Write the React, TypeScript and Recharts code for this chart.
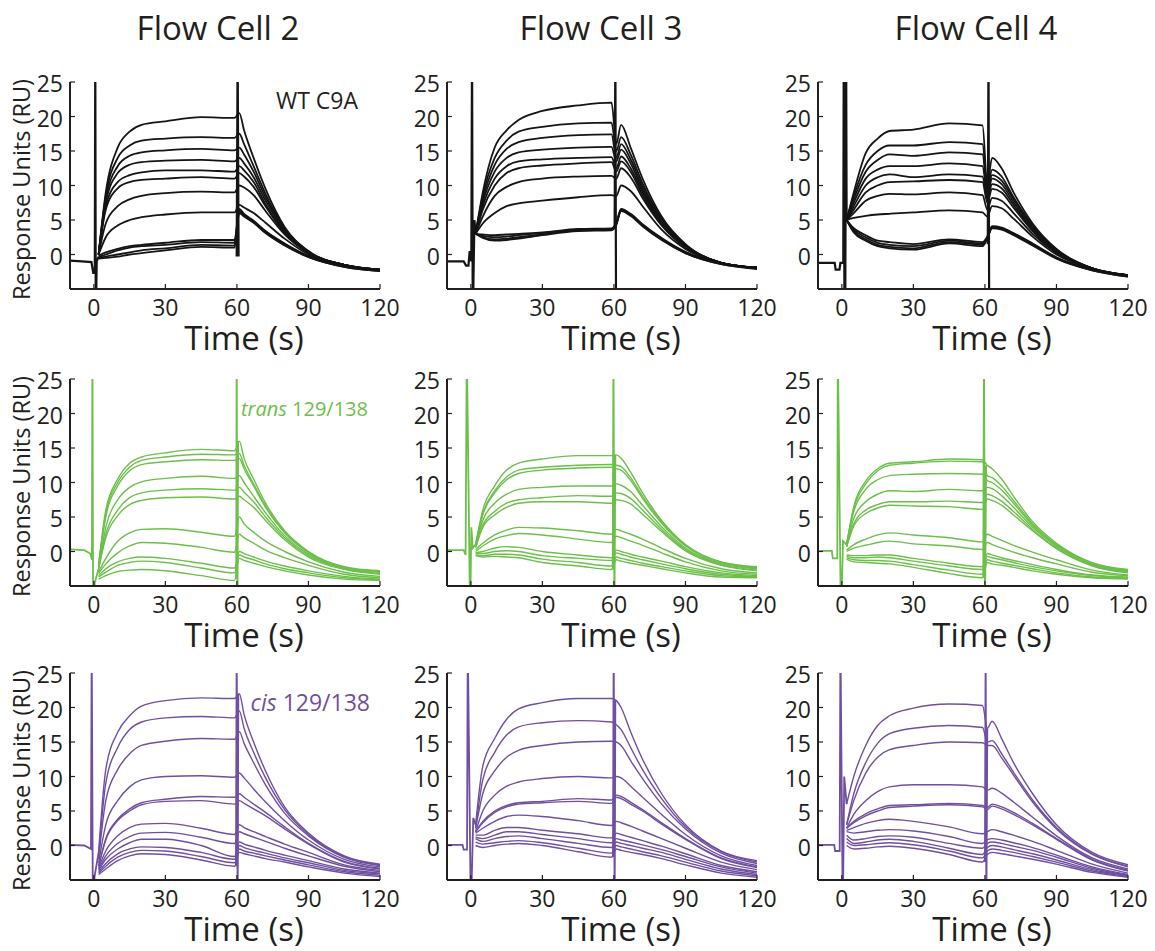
import { LineChart, Line, XAxis, YAxis, Label } from "recharts"

const FONT = '"Open Sans", "DejaVu Sans", sans-serif'
const INK = "#231f20"

const titles = ["Flow Cell 2", "Flow Cell 3", "Flow Cell 4"]
const xTicks = [0, 30, 60, 90, 120]
const yTicks = [0, 5, 10, 15, 20, 25]

// sample times (s) shared by every sensorgram after the injection spike
const time = [2, 5, 10, 15, 20, 30, 45, 59, 61, 63, 67, 72, 80, 90, 105, 120]

// WT C9A, flow cell 2
const wtFc2 = [
  [0, 9, 15.5, 17.8, 18.8, 19.3, 19.9, 19.8, 20.5, 18, 14, 9.5, 4, 0.5, -1.5, -2.2],
  [0, 8.5, 14, 15.8, 16.5, 16.8, 17, 16.9, 17.5, 16, 12.8, 8.8, 3.8, 0.4, -1.5, -2.2],
  [0, 8, 12.8, 14.3, 14.8, 15.1, 15.3, 15.1, 15.5, 14.5, 12, 8.3, 3.6, 0.4, -1.5, -2.2],
  [0, 7.5, 11.8, 13, 13.4, 13.6, 13.7, 13.5, 14, 13.2, 11.2, 7.8, 3.4, 0.3, -1.5, -2.2],
  [0, 7, 10.5, 11.5, 11.9, 12.2, 12.2, 12, 12.8, 12.2, 10.5, 7.3, 3.2, 0.3, -1.5, -2.2],
  [0, 6.5, 9.6, 10.5, 10.8, 11, 11.2, 11, 11.8, 11.3, 9.8, 7, 3.1, 0.2, -1.5, -2.2],
  [0, 4.5, 7, 8, 8.5, 8.9, 9.1, 9, 10, 9.7, 8.6, 6.3, 2.9, 0.2, -1.5, -2.3],
  [0, 2.5, 4.2, 5, 5.4, 5.8, 6.1, 6.1, 7.2, 6.8, 6, 4.6, 2.3, 0, -1.6, -2.3],
  [-0.2, 0.3, 0.8, 1.2, 1.4, 1.7, 2.1, 2.1, 6.6, 5.9, 4.9, 3.4, 1.6, -0.2, -1.7, -2.3],
  [-0.4, 0, 0.6, 1, 1.2, 1.4, 1.8, 1.7, 6.4, 5.8, 4.8, 3.3, 1.5, -0.3, -1.7, -2.3],
  [-0.5, -0.3, 0, 0.3, 0.6, 0.9, 1.4, 1.3, 6.2, 5.6, 4.7, 3.2, 1.4, -0.3, -1.8, -2.4],
  [-0.6, -0.5, -0.3, 0, 0.2, 0.6, 1.1, 1, 6, 5.5, 4.6, 3.1, 1.3, -0.4, -1.8, -2.4],
]
const wtFc2InjT = [-10, -5, -1, -0.2, 0.4, 0.6, 0.8, 1.2, 2]
const wtFc2InjV = [-0.9, -1, -1.1, -2.8, -2, 30, -10, -1, -0.3]
const wtFc2StopT = [59.9, 60.3, 60.7]
const wtFc2StopV = [-0.3, 30, -0.3]

// WT C9A, flow cell 3
const wtFc3 = [
  [3, 9, 15.5, 18, 19.5, 20.8, 21.6, 22, 16, 18.8, 15.5, 11, 5.5, 1.5, -1.2, -1.9],
  [3, 8.5, 14, 16.5, 17.8, 18.5, 19, 19.1, 15, 17, 14.5, 10.3, 5.2, 1.4, -1.2, -1.9],
  [3, 8, 13, 15.3, 16.3, 16.9, 17.3, 17.4, 14, 16, 13.8, 9.8, 5, 1.3, -1.2, -1.9],
  [3, 7.5, 12, 14, 14.8, 15.2, 15.5, 15.6, 13.5, 15.2, 13.2, 9.4, 4.8, 1.2, -1.2, -1.9],
  [3, 7, 11, 12.8, 13.5, 13.8, 14, 14.1, 12.5, 14.2, 12.5, 9, 4.6, 1.2, -1.2, -1.9],
  [3, 6.5, 10, 11.8, 12.5, 12.9, 13.2, 13.4, 12, 13.5, 12, 8.6, 4.4, 1.1, -1.2, -1.9],
  [3, 5.5, 8.5, 9.8, 10.5, 11, 11.3, 11.4, 11, 12.5, 11.2, 8.2, 4.2, 1, -1.2, -1.9],
  [3, 4.5, 6, 7, 7.4, 7.8, 8.3, 8.6, 8.5, 10, 9.2, 7, 3.6, 0.8, -1.2, -1.9],
  [3, 2.9, 2.8, 2.9, 3, 3.2, 3.7, 3.8, 4.6, 6.6, 5.9, 4.4, 2.4, 0.4, -1.3, -2],
  [3, 2.7, 2.5, 2.6, 2.8, 3.1, 3.6, 3.7, 4.5, 6.5, 5.8, 4.3, 2.3, 0.3, -1.3, -2],
  [3, 2.5, 2.2, 2.3, 2.5, 2.9, 3.5, 3.6, 4.4, 6.4, 5.7, 4.2, 2.2, 0.2, -1.4, -2],
  [3, 2.4, 2, 2.1, 2.3, 2.8, 3.4, 3.5, 4.3, 6.3, 5.6, 4.1, 2.1, 0.2, -1.4, -2.1],
]
const wtFc3InjT = [-10, -3, -2, -1, -0.5, 0.2, 0.5, 0.8, 1.5, 2]
const wtFc3InjV = [-1, -1, -1.6, -1.6, 0.5, -1, 30, -10, 5, 3]
const wtFc3StopT = [60.3, 60.6, 60.9]
const wtFc3StopV = [3.8, 30, -10]

// WT C9A, flow cell 4
const wtFc4 = [
  [5, 9, 14.7, 16.8, 17.9, 18.1, 19, 18.7, 10, 14, 12.5, 9, 4.5, 0.8, -2, -3],
  [5, 8.5, 13, 15, 15.8, 15.8, 16.3, 16, 9.5, 12.3, 11.3, 8.3, 4.2, 0.7, -2, -3],
  [5, 8, 12, 13.7, 14.5, 14.3, 14.8, 14.5, 9, 11.5, 10.7, 8, 4, 0.6, -2, -3],
  [5, 7.5, 11, 12.3, 12.8, 12.8, 13.2, 12.8, 8.5, 11, 10.2, 7.6, 3.8, 0.5, -2, -3],
  [5, 7, 10, 11.2, 11.6, 11.2, 11.6, 11.3, 8, 10.2, 9.6, 7.2, 3.6, 0.4, -2, -3],
  [5, 6.5, 9, 10, 10.5, 10.6, 10.8, 10.5, 7.5, 9.5, 9, 6.8, 3.4, 0.3, -2, -3],
  [5, 6, 7.8, 8.5, 8.8, 8.7, 9, 8.6, 6.5, 8.2, 7.8, 6, 3, 0.2, -2.1, -3.1],
  [5, 5.3, 5.6, 5.8, 5.9, 6.1, 6.4, 6.1, 5.5, 7, 6.7, 5.2, 2.6, 0, -2.1, -3.1],
  [5, 3.8, 2.8, 2, 1.8, 1.5, 2.2, 1.8, 2.6, 4.1, 3.9, 3.1, 1.6, -0.4, -2.2, -3.1],
  [5, 3.6, 2.5, 1.7, 1.4, 1.2, 2, 1.6, 2.5, 4, 3.8, 3, 1.5, -0.5, -2.2, -3.1],
  [5, 3.4, 2.2, 1.4, 1.1, 0.9, 1.8, 1.4, 2.4, 3.9, 3.7, 2.9, 1.4, -0.5, -2.3, -3.2],
  [5, 3.2, 2, 1.2, 0.9, 0.7, 1.6, 1.2, 2.3, 3.8, 3.6, 2.8, 1.3, -0.6, -2.3, -3.2],
]
const wtFc4InjT = [-10, -3, -2.6, -1, -0.6, 0.6, 0.8, 1.1, 1.4, 1.8, 2]
const wtFc4InjV = [-1.2, -1.2, -2.2, -2.2, -1.2, -1.2, 30, -10, -10, 30, 5]
const wtFc4StopT = [61.2, 61.5, 61.8]
const wtFc4StopV = [1.5, 30, -10]

// trans 129/138, flow cell 2
const transFc2 = [
  [-2, 6, 10.5, 12.8, 13.7, 14.3, 14.8, 14.6, 16, 13.5, 10.5, 7, 3, 0, -2.2, -2.8],
  [-2, 5.5, 10, 12.2, 13.2, 13.7, 14.1, 14, 14.2, 12.5, 9.8, 6.6, 2.8, -0.1, -2.3, -2.9],
  [-2, 5, 9.5, 11.7, 12.6, 13, 13.3, 13.2, 13.5, 12, 9.5, 6.4, 2.7, -0.2, -2.3, -2.9],
  [-2.5, 3.5, 7.5, 9.3, 10.1, 10.6, 10.9, 10.6, 11, 10, 8, 5.6, 2.3, -0.4, -2.4, -3],
  [-2.5, 2.5, 6, 7.8, 8.5, 8.9, 9.1, 8.9, 9.3, 8.6, 7.2, 5, 2, -0.6, -2.5, -3.2],
  [-2.5, 2, 5.2, 6.8, 7.4, 7.8, 7.9, 7.6, 8, 7.5, 6.4, 4.5, 1.7, -0.8, -2.6, -3.3],
  [-3, -1, 1.5, 2.7, 3.2, 3.3, 2.8, 2.2, 5, 4, 2.8, 1.5, 0, -1.5, -3, -3.6],
  [-3.2, -1.8, -0.2, 0.8, 1.3, 1.2, 0.6, -0.1, 2.5, 2, 1.2, 0.2, -0.9, -2, -3.3, -3.8],
  [-3.5, -2.5, -1.5, -1, -0.8, -1, -1.7, -2.4, 0, -0.3, -0.8, -1.4, -2.1, -2.8, -3.6, -4],
  [-3.7, -3, -2, -1.6, -1.4, -1.6, -2.4, -3.1, -0.5, -0.8, -1.2, -1.8, -2.5, -3.1, -3.8, -4.1],
  [-4, -3.5, -2.9, -2.7, -2.6, -2.8, -3.5, -4.2, -1, -1.3, -1.7, -2.2, -2.8, -3.4, -4, -4.2],
]
const transFc2InjT = [-10, -4, -1.5, -0.8, -0.6, -0.3, 0.4, 2]
const transFc2InjV = [0.3, 0.2, -0.3, -1.2, 30, -10, -4.5, -2.5]
const transFc2StopT = [59.7, 59.9, 60.2, 60.5]
const transFc2StopV = [-4, 30, -10, 16]

// trans 129/138, flow cell 3
const transFc3 = [
  [1, 6, 9.5, 11.8, 12.8, 13.4, 13.9, 13.9, 14, 13.5, 11.5, 8.5, 4.5, 1, -1.5, -2.2],
  [1, 5.5, 8.8, 10.8, 11.8, 12.2, 12.5, 12.6, 12.5, 12.3, 10.7, 8, 4.3, 0.9, -1.6, -2.3],
  [1, 5.3, 8.5, 10.4, 11.3, 11.8, 12.1, 12.2, 12, 11.8, 10.3, 7.7, 4.1, 0.8, -1.6, -2.4],
  [0.8, 4.5, 7, 8.3, 9, 9.3, 9.5, 9.5, 9.8, 9.6, 8.7, 6.7, 3.6, 0.5, -1.8, -2.5],
  [0.6, 3.8, 5.8, 7, 7.5, 7.8, 8.1, 8, 8.5, 8.4, 7.7, 6, 3.2, 0.3, -1.9, -2.7],
  [0.6, 3.5, 5.3, 6.4, 7, 7.2, 7.2, 7, 7.5, 7.4, 6.9, 5.4, 2.9, 0.1, -2, -2.8],
  [0.3, 1.2, 2.4, 3.1, 3.5, 3.4, 3, 2.5, 3.2, 3, 2.5, 1.8, 0.5, -1, -2.5, -3.1],
  [0, 0.8, 1.8, 2.3, 2.6, 2.4, 1.8, 1.3, 2.2, 2, 1.5, 0.9, -0.2, -1.5, -2.8, -3.3],
  [-0.2, 0, 0.5, 0.7, 0.6, 0, -0.5, -0.9, 0.2, 0, -0.4, -0.8, -1.4, -2.2, -3.1, -3.5],
  [-0.3, -0.3, 0, 0.1, 0, -0.6, -1, -1.3, -0.2, -0.4, -0.8, -1.2, -1.8, -2.5, -3.3, -3.6],
  [-0.5, -0.6, -0.4, -0.4, -0.5, -1.1, -1.6, -2.1, -0.8, -1, -1.3, -1.7, -2.2, -2.8, -3.5, -3.7],
  [-0.6, -0.8, -0.7, -0.8, -0.9, -1.6, -2.1, -2.6, -1.2, -1.4, -1.7, -2, -2.5, -3.1, -3.7, -3.8],
]
const transFc3InjT = [-10, -3, -2.2, -1.7, -0.3, 0.2, 0.8, 2]
const transFc3InjV = [0.2, 0.2, -0.5, 30, -10, 3.5, 0.5, 1]
const transFc3StopT = [59.5, 59.8, 60.2, 60.6]
const transFc3StopV = [-2.6, 30, -10, 14]

// trans 129/138, flow cell 4
const transFc4 = [
  [1, 6.5, 10.2, 12, 12.8, 13, 13.4, 13.3, 12.5, 12, 10.5, 8, 4.3, 1.2, -1.6, -2.6],
  [1, 6.2, 9.8, 11.7, 12.5, 12.8, 13.1, 13, 11, 10.7, 9.5, 7.4, 4, 1, -1.7, -2.7],
  [1, 5.8, 9, 10.4, 11, 11.2, 11.3, 11.2, 10.3, 10, 8.9, 7, 3.8, 0.9, -1.8, -2.8],
  [0.8, 4.8, 7.2, 8.3, 8.8, 8.7, 9, 8.8, 9.3, 9.1, 8.1, 6.4, 3.5, 0.7, -1.9, -2.9],
  [0.7, 4, 6, 6.8, 7.2, 7.2, 7.3, 7.1, 8.3, 8.1, 7.3, 5.8, 3.2, 0.5, -2, -3],
  [0.7, 3.7, 5.5, 6.3, 6.7, 6.6, 6.5, 6.1, 7.6, 7.4, 6.7, 5.3, 3, 0.4, -2.1, -3.1],
  [0.2, 1, 1.8, 2.4, 2.7, 2.4, 2, 1.4, 2.5, 2.2, 1.6, 0.9, -0.1, -1.2, -2.7, -3.4],
  [0, 0.5, 0.9, 1.3, 1.5, 1.1, 0.8, 0.3, 1.3, 1, 0.5, -0.1, -0.9, -1.8, -3, -3.5],
  [-0.5, -0.6, -0.6, -0.5, -0.5, -1, -1.7, -2.2, -0.3, -0.5, -0.9, -1.3, -1.9, -2.6, -3.4, -3.7],
  [-0.7, -0.9, -0.9, -0.8, -0.9, -1.4, -2.1, -2.6, -0.7, -0.9, -1.2, -1.6, -2.2, -2.8, -3.5, -3.8],
  [-0.9, -1.2, -1.3, -1.3, -1.4, -1.9, -2.7, -3.3, -1.2, -1.4, -1.7, -2, -2.5, -3.1, -3.7, -3.9],
  [-1.1, -1.5, -1.6, -1.7, -1.8, -2.3, -3.2, -3.8, -1.6, -1.8, -2, -2.3, -2.8, -3.3, -3.8, -4],
]
const transFc4InjT = [-10, -4.2, -3.8, -1.9, -1.7, -0.4, 0.5, 2]
const transFc4InjV = [0.1, 0.1, -1, -1, 30, -10, 1.5, 1]
const transFc4StopT = [59.3, 59.6, 60, 60.5]
const transFc4StopV = [-3.8, 30, -10, 12.5]

// cis 129/138, flow cell 2
const cisFc2 = [
  [-1, 11, 16.4, 18.8, 20.2, 21, 21.4, 21.3, 22, 19, 15, 10.8, 5.6, 1.8, -1.5, -2.7],
  [-1.5, 9, 14.2, 16.8, 17.9, 18.5, 18.7, 18.5, 19.5, 17, 13.5, 9.8, 5.2, 1.6, -1.6, -2.8],
  [-2, 6.5, 11, 13.3, 14.5, 15.1, 15.5, 15.4, 16.5, 14.8, 12, 8.8, 4.7, 1.4, -1.7, -2.9],
  [-2.5, 3, 6.5, 8.5, 9.5, 10, 10.1, 9.9, 10.5, 9.8, 8.2, 6.3, 3.6, 0.8, -2, -3.1],
  [-3, 1, 3.8, 5.3, 6.2, 6.7, 7.1, 7, 7.5, 7, 6, 4.8, 2.7, 0.3, -2.3, -3.3],
  [-3, 0.8, 3.6, 5, 5.9, 6.4, 6.5, 6, 6.5, 6.1, 5.3, 4.3, 2.4, 0.2, -2.4, -3.4],
  [-3.2, -0.8, 1.4, 2.6, 3.1, 3.2, 2.5, 1.6, 3, 2.6, 2, 1.3, 0.2, -1, -2.8, -3.6],
  [-3.4, -1.5, 0.3, 1.3, 1.8, 1.9, 1.2, 0.3, 2, 1.7, 1.2, 0.6, -0.4, -1.5, -3, -3.8],
  [-3.6, -2, -0.5, 0.4, 0.9, 0.9, 0, -1.6, 0.5, 0.2, -0.2, -0.7, -1.4, -2.2, -3.4, -4],
  [-3.8, -2.6, -1.2, -0.5, -0.2, -0.3, -1, -2, 0, -0.3, -0.7, -1.1, -1.8, -2.5, -3.6, -4.1],
  [-4, -3, -1.7, -1, -0.7, -0.8, -1.6, -2.5, -0.5, -0.8, -1.1, -1.5, -2.1, -2.8, -3.8, -4.3],
  [-4.2, -3.4, -2.2, -1.5, -1.2, -1.3, -2.1, -3, -1, -1.2, -1.5, -1.9, -2.4, -3.1, -4, -4.5],
]
const cisFc2InjT = [-10, -4, -1.2, -0.9, -0.4, 0.3, 2]
const cisFc2InjV = [0.1, 0, -0.5, 30, -10, -4.5, -1]
const cisFc2StopT = [59.6, 59.9, 60.3, 60.6]
const cisFc2StopV = [-3, 30, -10, 22]

// cis 129/138, flow cell 3
const cisFc3 = [
  [3, 11.5, 15.5, 18.3, 19.8, 20.7, 21.3, 21.3, 21, 20, 16.5, 12.5, 7.5, 3, -0.8, -2.2],
  [2.5, 9.5, 13.5, 16, 17.2, 17.8, 18.1, 17.9, 17.5, 16.8, 14.2, 11, 6.8, 2.7, -0.9, -2.4],
  [2.5, 7.5, 10.8, 12.8, 13.8, 14.5, 15, 15.1, 15, 14.5, 12.3, 9.7, 6, 2.4, -1.1, -2.6],
  [2, 5, 7.3, 8.6, 9.2, 9.7, 10, 9.8, 10, 9.8, 8.6, 7, 4.5, 1.6, -1.5, -2.9],
  [2, 3.5, 5, 5.8, 6.2, 6.4, 6.8, 6.6, 7.3, 7.1, 6.3, 5.2, 3.3, 1, -1.8, -3.1],
  [2, 3.3, 4.8, 5.6, 6, 6.2, 6.4, 6.1, 7, 6.8, 6, 5, 3.1, 0.9, -1.9, -3.2],
  [1.8, 2.5, 3.5, 4.2, 4.4, 4.2, 3.6, 2.9, 3.5, 3.3, 2.8, 2.1, 1, -0.4, -2.4, -3.5],
  [1.5, 1.5, 2.2, 2.6, 2.6, 2.2, 1.7, 1.1, 1.8, 1.6, 1.2, 0.7, -0.1, -1.2, -2.9, -3.8],
  [1.2, 1, 1.5, 2, 2, 1.6, 1, 0.4, 1, 0.8, 0.5, 0.1, -0.6, -1.6, -3.1, -4],
  [1, 0.6, 1, 1.3, 1.4, 1, 0.3, -0.3, 0.5, 0.3, 0, -0.4, -1, -2, -3.4, -4.2],
  [0.5, 0.2, 0.4, 0.6, 0.7, 0.4, -0.4, -1.1, 0, -0.2, -0.5, -0.9, -1.5, -2.4, -3.7, -4.4],
  [0, -0.3, 0, 0.2, 0.3, 0, -0.9, -1.7, -0.5, -0.7, -1, -1.3, -1.9, -2.8, -4, -4.6],
]
const cisFc3InjT = [-10, -3.5, -3, -1.6, -1.3, 0, 1, 2]
const cisFc3InjV = [0.1, 0.1, -0.6, -0.6, 30, -10, 4, 3]
const cisFc3StopT = [59.6, 59.9, 60.3, 60.6]
const cisFc3StopV = [-1.7, 30, -10, 21]

// cis 129/138, flow cell 4
const cisFc4 = [
  [6, 10, 14.5, 17.4, 18.8, 19.9, 20.5, 20.3, 17, 18, 15.5, 12, 7.5, 3, -1, -2.8],
  [3, 7.5, 12, 14.8, 16.2, 17, 17.4, 17.1, 15, 15.2, 13.3, 10.6, 6.6, 2.6, -1.2, -3],
  [3, 6.5, 10.5, 12.8, 13.9, 14.5, 15, 14.9, 14.5, 14.5, 12.7, 10.2, 6.3, 2.4, -1.3, -3.1],
  [2.5, 4.5, 6.5, 7.8, 8.5, 8.8, 8.8, 8.5, 8, 8.3, 7.6, 6.3, 4.1, 1.4, -1.8, -3.4],
  [2.5, 3.5, 4.6, 5.3, 5.8, 5.9, 6.1, 5.8, 5.5, 6, 5.6, 4.8, 3.2, 1, -2, -3.6],
  [2.5, 3.3, 4.3, 5, 5.5, 5.7, 5.9, 5.6, 5.2, 5.7, 5.3, 4.5, 3, 0.9, -2.1, -3.7],
  [2.2, 2.6, 3.2, 3.6, 3.8, 3.5, 2.7, 1.7, 2, 2.3, 2, 1.5, 0.6, -0.7, -2.7, -4],
  [2, 1.8, 2, 2.2, 2.3, 2.1, 1.3, 0.3, 0.8, 1, 0.8, 0.4, -0.3, -1.4, -3.1, -4.2],
  [1.5, 0.8, 1, 1.3, 1.4, 1.2, 0.3, -0.4, 0.3, 0.5, 0.3, -0.1, -0.7, -1.7, -3.3, -4.3],
  [1, 0.3, 0.5, 0.8, 0.9, 0.6, -0.4, -1.3, -0.3, 0, -0.2, -0.6, -1.2, -2.1, -3.5, -4.4],
  [0.5, 0, 0.1, 0.3, 0.4, 0.1, -0.8, -1.8, -0.8, -0.5, -0.7, -1, -1.6, -2.4, -3.7, -4.5],
  [0, -0.5, -0.4, -0.2, -0.1, -0.4, -1.3, -2.4, -1.3, -1, -1.2, -1.5, -2, -2.7, -3.9, -4.6],
]
const cisFc4InjT = [-10, -3.2, -2.8, -0.9, -0.6, 0.4, 1, 2]
const cisFc4InjV = [0.1, 0.1, -0.8, -0.8, 30, -10, 10, 6]
const cisFc4StopT = [60, 60.3, 60.6, 61]
const cisFc4StopV = [-2.4, 30, -10, 17]

const rowColors = ["#141414", "#6cbf4a", "#6f4f9f"]
const rowLineWidths = [1.8, 1.4, 1.4]
const plotLefts = [70, 447, 818]
const plotTops = [82, 379, 673]
const PLOT_W = 310
const PLOT_H = 207
const X_AXIS_H = 61
const M_TOP = 18
const M_RIGHT = 26
const M_BOTTOM = 12

const toPoints = (ts: number[], vs: number[]) => ts.map((t, i) => ({ t, v: vs[i] }))

const panels = [
  [
    { curves: wtFc2, inj: toPoints(wtFc2InjT, wtFc2InjV), stop: toPoints(wtFc2StopT, wtFc2StopV) },
    { curves: wtFc3, inj: toPoints(wtFc3InjT, wtFc3InjV), stop: toPoints(wtFc3StopT, wtFc3StopV) },
    { curves: wtFc4, inj: toPoints(wtFc4InjT, wtFc4InjV), stop: toPoints(wtFc4StopT, wtFc4StopV) },
  ],
  [
    { curves: transFc2, inj: toPoints(transFc2InjT, transFc2InjV), stop: toPoints(transFc2StopT, transFc2StopV) },
    { curves: transFc3, inj: toPoints(transFc3InjT, transFc3InjV), stop: toPoints(transFc3StopT, transFc3StopV) },
    { curves: transFc4, inj: toPoints(transFc4InjT, transFc4InjV), stop: toPoints(transFc4StopT, transFc4StopV) },
  ],
  [
    { curves: cisFc2, inj: toPoints(cisFc2InjT, cisFc2InjV), stop: toPoints(cisFc2StopT, cisFc2StopV) },
    { curves: cisFc3, inj: toPoints(cisFc3InjT, cisFc3InjV), stop: toPoints(cisFc3StopT, cisFc3StopV) },
    { curves: cisFc4, inj: toPoints(cisFc4InjT, cisFc4InjV), stop: toPoints(cisFc4StopT, cisFc4StopV) },
  ],
]

type PanelProps = {
  curves: number[][]
  inj: { t: number; v: number }[]
  stop: { t: number; v: number }[]
  color: string
  lineWidth: number
  left: number
  top: number
  showYLabel: boolean
}

const tickStyle = { fill: INK, fontSize: 23, fontFamily: FONT }
const frame = { stroke: INK, strokeWidth: 2 }
const tickMark = { stroke: INK, strokeWidth: 1.2 }

function Panel({ curves, inj, stop, color, lineWidth, left, top, showYLabel }: PanelProps) {
  const yW = showYLabel ? 70 : 62
  return (
    <div style={{ position: "absolute", left: left - yW, top: top - M_TOP }}>
      <LineChart
        width={yW + PLOT_W + M_RIGHT}
        height={M_TOP + PLOT_H + X_AXIS_H + M_BOTTOM}
        margin={{ top: M_TOP, right: M_RIGHT, bottom: M_BOTTOM, left: 0 }}
      >
        <XAxis
          dataKey="t"
          type="number"
          domain={[-10, 120]}
          ticks={xTicks}
          allowDataOverflow
          height={X_AXIS_H}
          tickSize={-5}
          tickMargin={16}
          axisLine={frame}
          tickLine={tickMark}
          tick={tickStyle}
        >
          <Label
            value="Time (s)"
            position="insideBottom"
            offset={0}
            dx={19}
            style={{ fontSize: 33, fontFamily: FONT, fill: INK }}
          />
        </XAxis>
        <XAxis
          xAxisId="top"
          orientation="top"
          type="number"
          domain={[-10, 120]}
          ticks={xTicks}
          allowDataOverflow
          height={0}
          tickSize={-5}
          axisLine={frame}
          tickLine={tickMark}
          tick={false}
        />
        <YAxis
          dataKey="v"
          type="number"
          domain={[-5, 25]}
          ticks={yTicks}
          allowDataOverflow
          width={yW}
          tickSize={-5}
          tickMargin={12}
          axisLine={frame}
          tickLine={tickMark}
          tick={{ ...tickStyle, dy: 2 }}
        >
          {showYLabel && (
            <Label
              value="Response Units (RU)"
              angle={-90}
              position="center"
              dx={-13}
              dy={4}
              style={{ fontSize: 23.5, fontFamily: FONT, fill: INK }}
            />
          )}
        </YAxis>
        <YAxis
          yAxisId="right"
          orientation="right"
          type="number"
          domain={[-5, 25]}
          ticks={yTicks}
          allowDataOverflow
          width={0}
          tickSize={-5}
          axisLine={frame}
          tickLine={tickMark}
          tick={false}
        />
        <Line data={inj} dataKey="v" type="linear" stroke={color} strokeWidth={lineWidth + 0.4} dot={false} isAnimationActive={false} />
        <Line data={stop} dataKey="v" type="linear" stroke={color} strokeWidth={lineWidth + 0.4} dot={false} isAnimationActive={false} />
        {curves.map((c, i) => (
          <Line
            key={i}
            data={time.map((t, j) => ({ t, v: c[j] }))}
            dataKey="v"
            type="monotone"
            stroke={color}
            strokeWidth={lineWidth}
            dot={false}
            isAnimationActive={false}
          />
        ))}
      </LineChart>
    </div>
  )
}

const textBase = { position: "absolute" as const, fontFamily: FONT, color: INK, whiteSpace: "nowrap" as const }

export default function App() {
  return (
    <div style={{ position: "absolute", left: 0, top: 0, width: 1155, height: 951, background: "#fff", overflow: "hidden" }}>
      {titles.map((title, i) => (
        <div
          key={title}
          style={{ ...textBase, left: [218, 601, 976][i] - 150, top: 11, width: 300, textAlign: "center", fontSize: 33, lineHeight: "33px" }}
        >
          {title}
        </div>
      ))}
      {panels.map((row, r) =>
        row.map((p, c) => (
          <Panel
            key={`${r}-${c}`}
            curves={p.curves}
            inj={p.inj}
            stop={p.stop}
            color={rowColors[r]}
            lineWidth={rowLineWidths[r]}
            left={plotLefts[c]}
            top={plotTops[r]}
            showYLabel={c === 0}
          />
        ))
      )}
      <div style={{ ...textBase, left: 158, top: 89, width: 200, textAlign: "right", fontSize: 23, lineHeight: "23px" }}>
        WT C9A
      </div>
      <div style={{ ...textBase, left: 168, top: 399, width: 200, textAlign: "right", fontSize: 20, lineHeight: "20px", color: rowColors[1] }}>
        <i>trans</i> 129/138
      </div>
      <div style={{ ...textBase, left: 170, top: 691, width: 200, textAlign: "right", fontSize: 23, lineHeight: "23px", color: rowColors[2] }}>
        <i>cis</i> 129/138
      </div>
    </div>
  )
}
